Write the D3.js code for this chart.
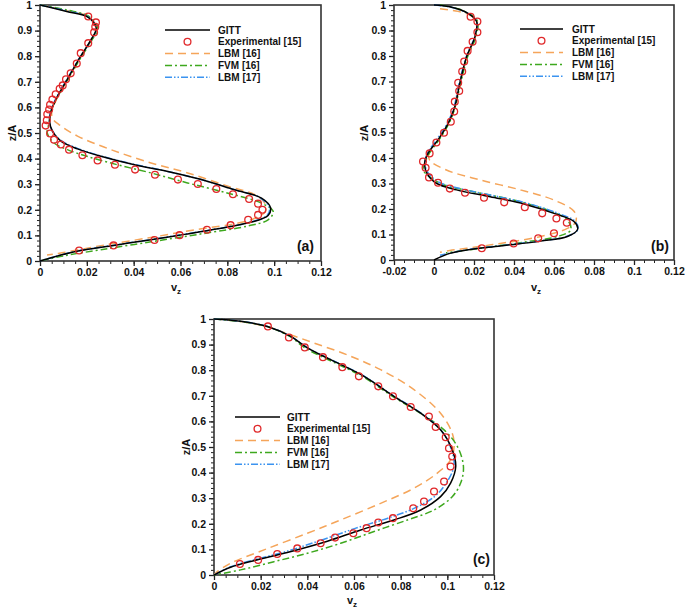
<!DOCTYPE html>
<html>
<head>
<meta charset="utf-8">
<script src="https://cdn.jsdelivr.net/npm/d3@7"></script>
<style>
  html, body { margin: 0; padding: 0; background: #fff; }
  svg { display: block; font-family: "Liberation Sans", Arial, sans-serif; }
</style>
</head>
<body>
<svg id="chart" width="685" height="608"></svg>
<script>
// ---------- DATA (v_z, z/A) ----------
const seriesNames = ["GITT", "Experimental [15]", "LBM [16]", "FVM [16]", "LBM [17]"];
const xTicksA = [0, 0.02, 0.04, 0.06, 0.08, 0.1, 0.12];
const xTicksB = [-0.02, 0, 0.02, 0.04, 0.06, 0.08, 0.1, 0.12];
const yTicks = [0, 0.1, 0.2, 0.3, 0.4, 0.5, 0.6, 0.7, 0.8, 0.9, 1];

// Panel (a)
const gittA = [[0,1],[0.0114,0.975],[0.0206,0.952],[0.024,0.91],[0.0215,0.86],[0.0174,0.8],[0.0117,0.71],[0.0067,0.63],[0.0046,0.58],[0.0041,0.546],[0.0053,0.507],[0.0089,0.468],[0.016,0.438],[0.026,0.409],[0.0403,0.376],[0.0546,0.35],[0.0689,0.318],[0.0831,0.278],[0.0946,0.246],[0.0985,0.207],[0.0974,0.178],[0.0903,0.152],[0.076,0.126],[0.0617,0.104],[0.0474,0.083],[0.0314,0.061],[0.0163,0.039],[0.006,0.016],[0,0]];
const expA = [[0.0206,0.955],[0.0239,0.932],[0.0236,0.915],[0.0231,0.893],[0.0206,0.851],[0.0174,0.812],[0.0157,0.771],[0.0131,0.733],[0.0111,0.71],[0.0097,0.686],[0.0084,0.673],[0.0067,0.651],[0.0053,0.631],[0.0043,0.61],[0.0039,0.592],[0.0031,0.573],[0.0029,0.55],[0.0024,0.529],[0.0043,0.498],[0.006,0.474],[0.0089,0.455],[0.0124,0.435],[0.0181,0.413],[0.0246,0.393],[0.032,0.376],[0.0406,0.357],[0.0491,0.337],[0.0589,0.318],[0.0674,0.301],[0.0753,0.281],[0.0824,0.261],[0.0893,0.242],[0.0931,0.224],[0.095,0.2],[0.0931,0.18],[0.0889,0.161],[0.0814,0.14],[0.0713,0.122],[0.0596,0.101],[0.0489,0.082],[0.0314,0.061],[0.0167,0.041]];
const lbm16A = [[0,1],[0.0114,0.978],[0.0206,0.955],[0.0242,0.91],[0.0218,0.86],[0.0176,0.8],[0.012,0.71],[0.007,0.63],[0.005,0.58],[0.0055,0.555],[0.0081,0.533],[0.016,0.488],[0.0303,0.435],[0.0474,0.383],[0.0631,0.344],[0.0803,0.292],[0.0917,0.259],[0.096,0.226],[0.0962,0.193],[0.0917,0.167],[0.0831,0.145],[0.0689,0.126],[0.0474,0.092],[0.026,0.06],[0.01,0.033],[0.003,0.023]];
const fvmA = [[0,1],[0.0118,0.98],[0.021,0.955],[0.0246,0.91],[0.022,0.86],[0.0178,0.8],[0.012,0.71],[0.0068,0.63],[0.0045,0.58],[0.0039,0.54],[0.0031,0.5],[0.006,0.461],[0.0117,0.435],[0.02,0.409],[0.033,0.376],[0.0474,0.344],[0.063,0.305],[0.0803,0.265],[0.0946,0.226],[0.0996,0.193],[0.0974,0.161],[0.0889,0.137],[0.0689,0.106],[0.0474,0.075],[0.026,0.044],[0.01,0.02],[0,0]];
const lbm17A = [[0,1],[0.0114,0.977],[0.0207,0.953],[0.0241,0.91],[0.0216,0.86],[0.0173,0.8],[0.0115,0.71],[0.0065,0.63],[0.0044,0.58],[0.004,0.546],[0.0052,0.51],[0.0087,0.472],[0.0155,0.442],[0.025,0.413],[0.039,0.38],[0.0535,0.352],[0.068,0.32],[0.0825,0.28],[0.094,0.247],[0.098,0.208],[0.097,0.178],[0.09,0.152],[0.0757,0.126],[0.0612,0.104],[0.0468,0.083],[0.031,0.061],[0.016,0.039],[0.006,0.016],[0,0]];

// Panel (b)
const gittB = [[0,1],[0.0079,0.993],[0.017,0.967],[0.0213,0.935],[0.0205,0.876],[0.0163,0.797],[0.0129,0.693],[0.0104,0.601],[0.0071,0.536],[0.002,0.471],[-0.003,0.418],[-0.0047,0.379],[-0.0035,0.34],[0.0012,0.301],[0.0113,0.275],[0.0281,0.248],[0.0449,0.22],[0.06,0.183],[0.0701,0.15],[0.0718,0.12],[0.0667,0.092],[0.0533,0.074],[0.0331,0.055],[0.0163,0.039],[0.0079,0.026],[0,0]];
const expB = [[0.0183,0.954],[0.0217,0.935],[0.0217,0.893],[0.0193,0.856],[0.0168,0.82],[0.0151,0.778],[0.0141,0.739],[0.0121,0.695],[0.0126,0.663],[0.0104,0.621],[0.0101,0.582],[0.0084,0.542],[0.005,0.499],[0.0012,0.461],[-0.0022,0.418],[-0.0055,0.386],[-0.0042,0.362],[-0.0025,0.324],[0.002,0.303],[0.0079,0.28],[0.0155,0.264],[0.025,0.244],[0.0351,0.226],[0.0454,0.207],[0.0541,0.183],[0.0612,0.163],[0.0664,0.146],[0.06,0.105],[0.0521,0.085],[0.0398,0.065],[0.0239,0.046]];
const lbm16B = [[0.003,0.985],[0.012,0.975],[0.018,0.96],[0.0215,0.935],[0.0207,0.876],[0.0165,0.797],[0.013,0.693],[0.0105,0.601],[0.0072,0.536],[0.002,0.471],[-0.0025,0.42],[-0.0022,0.392],[0.0062,0.353],[0.023,0.314],[0.0432,0.275],[0.06,0.235],[0.0701,0.19],[0.0709,0.15],[0.0667,0.124],[0.0533,0.092],[0.0331,0.065],[0.0163,0.046],[0.0079,0.037],[0.003,0.03]];
const fvmB = [[0.003,1],[0.012,0.985],[0.0185,0.962],[0.0218,0.935],[0.021,0.876],[0.0168,0.797],[0.0133,0.693],[0.0106,0.601],[0.0075,0.536],[0.0025,0.471],[-0.003,0.41],[-0.005,0.37],[-0.0055,0.353],[0.0029,0.301],[0.0197,0.268],[0.0398,0.235],[0.0566,0.196],[0.0667,0.157],[0.0684,0.118],[0.0617,0.092],[0.045,0.07],[0.027,0.05],[0.013,0.035],[0.006,0.028]];
const lbm17B = [[0,1],[0.008,0.992],[0.0172,0.966],[0.0214,0.935],[0.0204,0.876],[0.0161,0.797],[0.0126,0.693],[0.01,0.601],[0.0066,0.536],[0.0016,0.475],[-0.0032,0.42],[-0.0045,0.38],[-0.003,0.343],[0.0025,0.305],[0.013,0.28],[0.03,0.252],[0.0465,0.223],[0.061,0.186],[0.0705,0.152],[0.072,0.12],[0.0665,0.093],[0.053,0.075],[0.033,0.056],[0.0163,0.04],[0.008,0.027],[0.003,0.019]];

// Panel (c)
const gittC = [[0,1],[0.0114,0.991],[0.0229,0.971],[0.0329,0.932],[0.04,0.887],[0.05,0.841],[0.0643,0.776],[0.0771,0.698],[0.0886,0.632],[0.0971,0.567],[0.1021,0.489],[0.1036,0.424],[0.1014,0.359],[0.0971,0.306],[0.0886,0.254],[0.0771,0.215],[0.0629,0.176],[0.0486,0.132],[0.0314,0.088],[0.0171,0.056],[0.0071,0.03],[0,0]];
const expC = [[0.0231,0.971],[0.0321,0.928],[0.0389,0.889],[0.0467,0.851],[0.055,0.812],[0.0621,0.776],[0.0704,0.737],[0.0767,0.698],[0.0843,0.656],[0.0921,0.619],[0.095,0.578],[0.0993,0.538],[0.1007,0.495],[0.1021,0.463],[0.1014,0.424],[0.0986,0.365],[0.0943,0.326],[0.09,0.287],[0.0854,0.261],[0.0767,0.222],[0.0704,0.205],[0.0654,0.183],[0.0597,0.163],[0.0519,0.146],[0.0457,0.124],[0.0357,0.104],[0.0271,0.082],[0.0189,0.059],[0.0111,0.043]];
const lbm16C = [[0,1],[0.0114,0.99],[0.0229,0.97],[0.0314,0.943],[0.0429,0.906],[0.0571,0.86],[0.0714,0.802],[0.0857,0.724],[0.0971,0.632],[0.1021,0.554],[0.1029,0.502],[0.1014,0.45],[0.0957,0.398],[0.0857,0.339],[0.0714,0.28],[0.0543,0.215],[0.04,0.163],[0.0214,0.098],[0.0071,0.046],[0.0014,0.013],[0,0]];
const fvmC = [[0,1],[0.0114,0.99],[0.0229,0.97],[0.0325,0.932],[0.039,0.887],[0.049,0.841],[0.0635,0.776],[0.0765,0.698],[0.0884,0.632],[0.0986,0.567],[0.1043,0.502],[0.1069,0.424],[0.1057,0.359],[0.1021,0.306],[0.0943,0.254],[0.0829,0.215],[0.0686,0.17],[0.0543,0.124],[0.04,0.085],[0.0257,0.052],[0.0114,0.02],[0,0]];
const lbm17C = [[0,1],[0.0114,0.991],[0.0229,0.971],[0.0329,0.932],[0.0402,0.887],[0.0502,0.841],[0.0645,0.776],[0.0773,0.698],[0.0888,0.632],[0.0972,0.567],[0.1018,0.489],[0.1028,0.424],[0.0995,0.359],[0.0945,0.306],[0.0857,0.26],[0.0745,0.222],[0.0605,0.182],[0.0466,0.138],[0.0305,0.091],[0.0166,0.058],[0.0068,0.031],[0,0]];

// ---------- STYLE ----------
const styles = {
  gitt:  {color: "#000000", dash: null, width: 1.5},
  lbm16: {color: "#f5a55a", dash: "8,5", width: 1.5},
  fvm:   {color: "#3ea81e", dash: "7,3,2,3", width: 1.5},
  lbm17: {color: "#3b93f0", dash: "7,2,1.5,2,1.5,2", width: 1.5},
  exp:   {color: "#e0282a"}
};

const panels = [
  {id: "a", data: {gitt: gittA, exp: expA, lbm16: lbm16A, fvm: fvmA, lbm17: lbm17A},
   xDomain: [0, 0.12], xTicks: xTicksA, left: 40, right: 321, top: 5, bottom: 261,
   legend: {x1: 165, x2: 210, tx: 218, y: 30}, label: {x: 314, y: 251},
   xTitle: {x: 176, y: 291}, yTitle: {x: 12, y: 133}},
  {id: "b", data: {gitt: gittB, exp: expB, lbm16: lbm16B, fvm: fvmB, lbm17: lbm17B},
   xDomain: [-0.02, 0.12], xTicks: xTicksB, left: 394, right: 674, top: 5, bottom: 260,
   legend: {x1: 520, x2: 563, tx: 572, y: 29}, label: {x: 669, y: 251},
   xTitle: {x: 536, y: 291}, yTitle: {x: 364, y: 133}},
  {id: "c", data: {gitt: gittC, exp: expC, lbm16: lbm16C, fvm: fvmC, lbm17: lbm17C},
   xDomain: [0, 0.12], xTicks: xTicksA, left: 214, right: 494, top: 319, bottom: 575,
   legend: {x1: 235, x2: 280, tx: 287, y: 417}, label: {x: 490, y: 564},
   xTitle: {x: 352, y: 604}, yTitle: {x: 186, y: 447}}
];

const svg = d3.select("#chart");
const fmt = d => (d === 0 ? "0" : String(+d.toFixed(2)));

panels.forEach(p => {
  const x = d3.scaleLinear().domain(p.xDomain).range([p.left, p.right]);
  const y = d3.scaleLinear().domain([0, 1]).range([p.bottom, p.top]);
  const g = svg.append("g");

  // minor ticks
  const xMinor = d3.range(p.xDomain[0], p.xDomain[1] + 1e-9, 0.005);
  const yMinor = d3.range(0, 1 + 1e-9, 0.02);
  g.append("g").attr("transform", `translate(0,${p.bottom})`)
    .call(d3.axisBottom(x).tickValues(xMinor).tickSize(3).tickFormat(""))
    .call(a => a.select(".domain").remove())
    .selectAll("line").attr("stroke", "#222").attr("stroke-width", 1);
  g.append("g").attr("transform", `translate(${p.left},0)`)
    .call(d3.axisLeft(y).tickValues(yMinor).tickSize(3).tickFormat(""))
    .call(a => a.select(".domain").remove())
    .selectAll("line").attr("stroke", "#222").attr("stroke-width", 1);

  // major axes
  const xa = g.append("g").attr("transform", `translate(0,${p.bottom})`)
    .call(d3.axisBottom(x).tickValues(p.xTicks).tickSize(5).tickPadding(3).tickFormat(fmt));
  const ya = g.append("g").attr("transform", `translate(${p.left},0)`)
    .call(d3.axisLeft(y).tickValues(yTicks).tickSize(5).tickPadding(3).tickFormat(fmt));
  [xa, ya].forEach(a => {
    a.select(".domain").remove();
    a.selectAll("line").attr("stroke", "#222").attr("stroke-width", 1.3);
    a.selectAll("text").attr("font-size", 10.5).attr("font-weight", "bold")
      .attr("fill", "#111").attr("font-family", "Liberation Sans, Arial, sans-serif");
  });

  // frame
  g.append("rect").attr("x", p.left).attr("y", p.top)
    .attr("width", p.right - p.left).attr("height", p.bottom - p.top)
    .attr("fill", "none").attr("stroke", "#333").attr("stroke-width", 1.6);

  // lines
  const clipId = "clip-" + p.id;
  svg.append("clipPath").attr("id", clipId).append("rect")
    .attr("x", p.left).attr("y", p.top - 1).attr("width", p.right - p.left).attr("height", p.bottom - p.top + 2);
  const line = d3.line().x(d => x(d[0])).y(d => y(d[1])).curve(d3.curveCatmullRom.alpha(0.5));
  const plot = g.append("g").attr("clip-path", `url(#${clipId})`);
  ["lbm16", "fvm", "lbm17", "gitt"].forEach(k => {
    const s = styles[k];
    plot.append("path").datum(p.data[k]).attr("d", line)
      .attr("fill", "none").attr("stroke", s.color).attr("stroke-width", s.width)
      .attr("stroke-dasharray", s.dash);
  });
  plot.selectAll("circle.exp").data(p.data.exp).join("circle").attr("class", "exp")
    .attr("cx", d => x(d[0])).attr("cy", d => y(d[1])).attr("r", 3.4)
    .attr("fill", "none").attr("stroke", styles.exp.color).attr("stroke-width", 1.3);

  // legend
  const L = p.legend, step = 11.8;
  const keys = ["gitt", "exp", "lbm16", "fvm", "lbm17"];
  keys.forEach((k, i) => {
    const yy = L.y + i * step;
    if (k === "exp") {
      g.append("circle").attr("cx", (L.x1 + L.x2) / 2).attr("cy", yy).attr("r", 3.4)
        .attr("fill", "none").attr("stroke", styles.exp.color).attr("stroke-width", 1.3);
    } else {
      const s = styles[k];
      g.append("line").attr("x1", L.x1).attr("x2", L.x2).attr("y1", yy).attr("y2", yy)
        .attr("stroke", s.color).attr("stroke-width", s.width).attr("stroke-dasharray", s.dash);
    }
    g.append("text").attr("x", L.tx).attr("y", yy).attr("dy", "0.35em")
      .attr("font-size", 10).attr("font-weight", "bold").attr("fill", "#111")
      .text(seriesNames[i]);
  });

  // panel label
  g.append("text").attr("x", p.label.x).attr("y", p.label.y).attr("text-anchor", "end")
    .attr("font-size", 14).attr("font-weight", "bold").attr("fill", "#111").text(`(${p.id})`);

  // axis titles
  const xt = g.append("text").attr("x", p.xTitle.x).attr("y", p.xTitle.y)
    .attr("text-anchor", "middle").attr("font-size", 11).attr("font-weight", "bold").attr("fill", "#111");
  xt.append("tspan").text("v");
  xt.append("tspan").attr("font-size", 8).attr("dy", 3).text("z");
  g.append("text").attr("transform", `translate(${p.yTitle.x},${p.yTitle.y}) rotate(-90)`)
    .attr("text-anchor", "middle").attr("dy", "0.35em")
    .attr("font-size", 11).attr("font-weight", "bold").attr("fill", "#111").text("z/A");
});
</script>
</body>
</html>
